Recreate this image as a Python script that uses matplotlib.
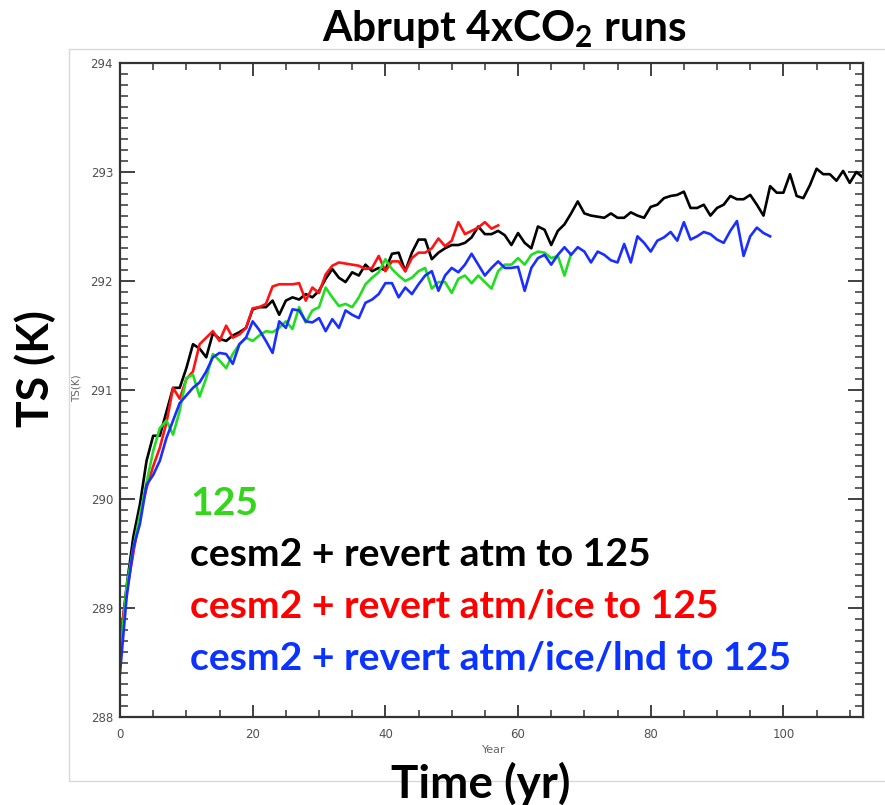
import numpy as np
import matplotlib
matplotlib.use("Agg")
import matplotlib.pyplot as plt
from matplotlib.patches import Rectangle
from matplotlib.ticker import MultipleLocator, FormatStrFormatter

# TS (K) per model year
ts_black = [288.65, 289.20, 289.65, 289.95, 290.35, 290.58, 290.58, 290.80, 291.02, 291.02,
            291.20, 291.42, 291.38, 291.30, 291.52, 291.47, 291.45, 291.50, 291.53, 291.57,
            291.74, 291.76, 291.76, 291.82, 291.69, 291.82, 291.85, 291.83, 291.88, 291.85,
            291.91, 292.02, 292.11, 292.03, 291.99, 292.08, 292.05, 292.15, 292.09, 292.12,
            292.10, 292.25, 292.26, 292.09, 292.26, 292.38, 292.38, 292.20, 292.26, 292.30,
            292.33, 292.33, 292.35, 292.40, 292.50, 292.43, 292.43, 292.46, 292.42, 292.33,
            292.44, 292.35, 292.30, 292.50, 292.47, 292.33, 292.46, 292.52, 292.62, 292.73,
            292.62, 292.60, 292.59, 292.58, 292.62, 292.58, 292.58, 292.63, 292.60, 292.58,
            292.68, 292.70, 292.76, 292.78, 292.79, 292.82, 292.67, 292.67, 292.70, 292.60,
            292.67, 292.70, 292.78, 292.75, 292.75, 292.79, 292.70, 292.60, 292.87, 292.81,
            292.81, 292.98, 292.78, 292.76, 292.88, 293.03, 292.98, 292.98, 292.92, 293.01,
            292.90, 293.00, 292.95]

ts_red = [288.70, 289.15, 289.50, 289.85, 290.10, 290.30, 290.47, 290.70, 291.02, 290.92,
          291.10, 291.17, 291.42, 291.48, 291.54, 291.45, 291.59, 291.48, 291.51, 291.57,
          291.75, 291.76, 291.79, 291.95, 291.97, 291.97, 291.97, 291.98, 291.82, 291.94,
          291.89, 292.06, 292.14, 292.17, 292.16, 292.15, 292.14, 292.11, 292.12, 292.23,
          292.09, 292.18, 292.18, 292.09, 292.21, 292.26, 292.26, 292.30, 292.39, 292.32,
          292.37, 292.54, 292.43, 292.46, 292.49, 292.54, 292.48, 292.51]

ts_green = [288.52, 289.20, 289.55, 289.85, 290.15, 290.44, 290.65, 290.72, 290.59, 290.81,
            291.11, 291.14, 290.94, 291.11, 291.33, 291.27, 291.20, 291.33, 291.42, 291.48,
            291.45, 291.50, 291.54, 291.53, 291.57, 291.63, 291.56, 291.76, 291.62, 291.73,
            291.76, 291.94, 291.85, 291.77, 291.79, 291.76, 291.85, 291.97, 292.03, 292.08,
            292.20, 292.11, 292.05, 292.00, 292.03, 292.09, 292.12, 291.93, 291.99, 291.99,
            291.89, 292.02, 292.05, 291.98, 292.05, 291.99, 291.93, 292.09, 292.15, 292.15,
            292.21, 292.15, 292.24, 292.27, 292.26, 292.21, 292.23, 292.05, 292.25]

ts_blue = [288.40, 289.10, 289.55, 289.77, 290.13, 290.22, 290.35, 290.56, 290.72, 290.88,
           290.95, 291.02, 291.07, 291.17, 291.30, 291.34, 291.33, 291.24, 291.42, 291.48,
           291.63, 291.55, 291.45, 291.34, 291.63, 291.57, 291.74, 291.73, 291.63, 291.62,
           291.66, 291.54, 291.65, 291.57, 291.73, 291.69, 291.66, 291.80, 291.83, 291.88,
           291.98, 291.98, 291.85, 291.94, 291.88, 291.97, 292.05, 292.09, 291.91, 292.05,
           292.12, 292.08, 292.15, 292.25, 292.15, 292.05, 292.12, 292.18, 292.12, 292.12,
           292.13, 291.91, 292.12, 292.21, 292.24, 292.15, 292.24, 292.31, 292.24, 292.31,
           292.27, 292.17, 292.27, 292.24, 292.19, 292.17, 292.34, 292.17, 292.41, 292.35,
           292.27, 292.37, 292.40, 292.45, 292.37, 292.54, 292.38, 292.41, 292.45, 292.43,
           292.38, 292.35, 292.46, 292.55, 292.23, 292.41, 292.49, 292.44, 292.41]

run_labels = ["125",
              "cesm2 + revert atm to 125",
              "cesm2 + revert atm/ice to 125",
              "cesm2 + revert atm/ice/lnd to 125"]
line_colors = ["#22dd22", "#000000", "#ff1414", "#1a2eff"]
text_colors = ["#33d61a", "#000000", "#ff0000", "#0a33ff"]
series = [ts_green, ts_black, ts_red, ts_blue]

W, H = 885, 805
fig = plt.figure(figsize=(W / 100, H / 100), dpi=100)
fig.patch.set_facecolor("white")

plt.rcParams["mathtext.fontset"] = "custom"
plt.rcParams["mathtext.rm"] = "Lato:bold"
plt.rcParams["mathtext.it"] = "Lato:bold"
plt.rcParams["mathtext.bf"] = "Lato:bold"


def fy(px):
    # pixel row -> figure fraction
    return 1 - px / H


# faint frame of the pasted IDL picture
fig.add_artist(Rectangle((69 / W, fy(781)), (W + 5 - 69) / W, (781 - 49) / H,
                         transform=fig.transFigure, fill=False, ec="#d8d8d8", lw=1))

ax = fig.add_axes([120 / W, fy(717), (863 - 120) / W, (717 - 63) / H])

# black under, then the others
for i in [1, 2, 0, 3]:
    y = series[i]
    ax.plot(np.arange(len(y)), y, color=line_colors[i], lw=1.9)

ax.set_xlim(0, 112)
ax.set_ylim(288, 294)
ax.xaxis.set_major_locator(MultipleLocator(20))
ax.xaxis.set_minor_locator(MultipleLocator(5))
ax.yaxis.set_major_locator(MultipleLocator(1))
ax.yaxis.set_minor_locator(MultipleLocator(0.1))
ax.yaxis.set_major_formatter(FormatStrFormatter("%d"))
ax.tick_params(which="both", direction="in", top=True, right=True, color="#333333",
               labelsize=8.5, labelcolor="#505050")
ax.tick_params(axis="y", which="major", length=11, width=1.3, pad=5)
ax.tick_params(axis="y", which="minor", length=6, width=1.1)
ax.tick_params(axis="x", which="major", length=9, width=1.3, pad=8)
ax.tick_params(axis="x", which="minor", length=5, width=1.1)
for s in ax.spines.values():
    s.set_color("#333333")
    s.set_linewidth(1.6)

# small IDL axis titles
fig.text(77 / W, fy(388), "TS(K)", rotation=90, ha="center", va="center",
         fontsize=7.5, color="#666666")
fig.text(494 / W, fy(750), "Year", ha="center", va="center", fontsize=8, color="#666666")

# big slide labels
fig.text(504 / W, fy(41), r"Abrupt 4xCO$_\mathrm{2}$ runs", ha="center", va="baseline",
         fontsize=30.5, fontweight="bold", family="Lato")
fig.text(35 / W, fy(369), "TS (K)", rotation=90, ha="center", va="center",
         fontsize=32, fontweight="bold", family="Lato")
fig.text(481 / W, fy(798), "Time (yr)", ha="center", va="baseline",
         fontsize=33, fontweight="bold", family="Lato")

# legend drawn as coloured text lines
label_base = [515, 566, 617, 669]
for lab, col, yy in zip(run_labels, text_colors, label_base):
    fig.text(190 / W, fy(yy), lab, ha="left", va="baseline",
             fontsize=28.2, fontweight="bold", family="Lato", color=col)

fig.savefig("out.png", dpi=100)
